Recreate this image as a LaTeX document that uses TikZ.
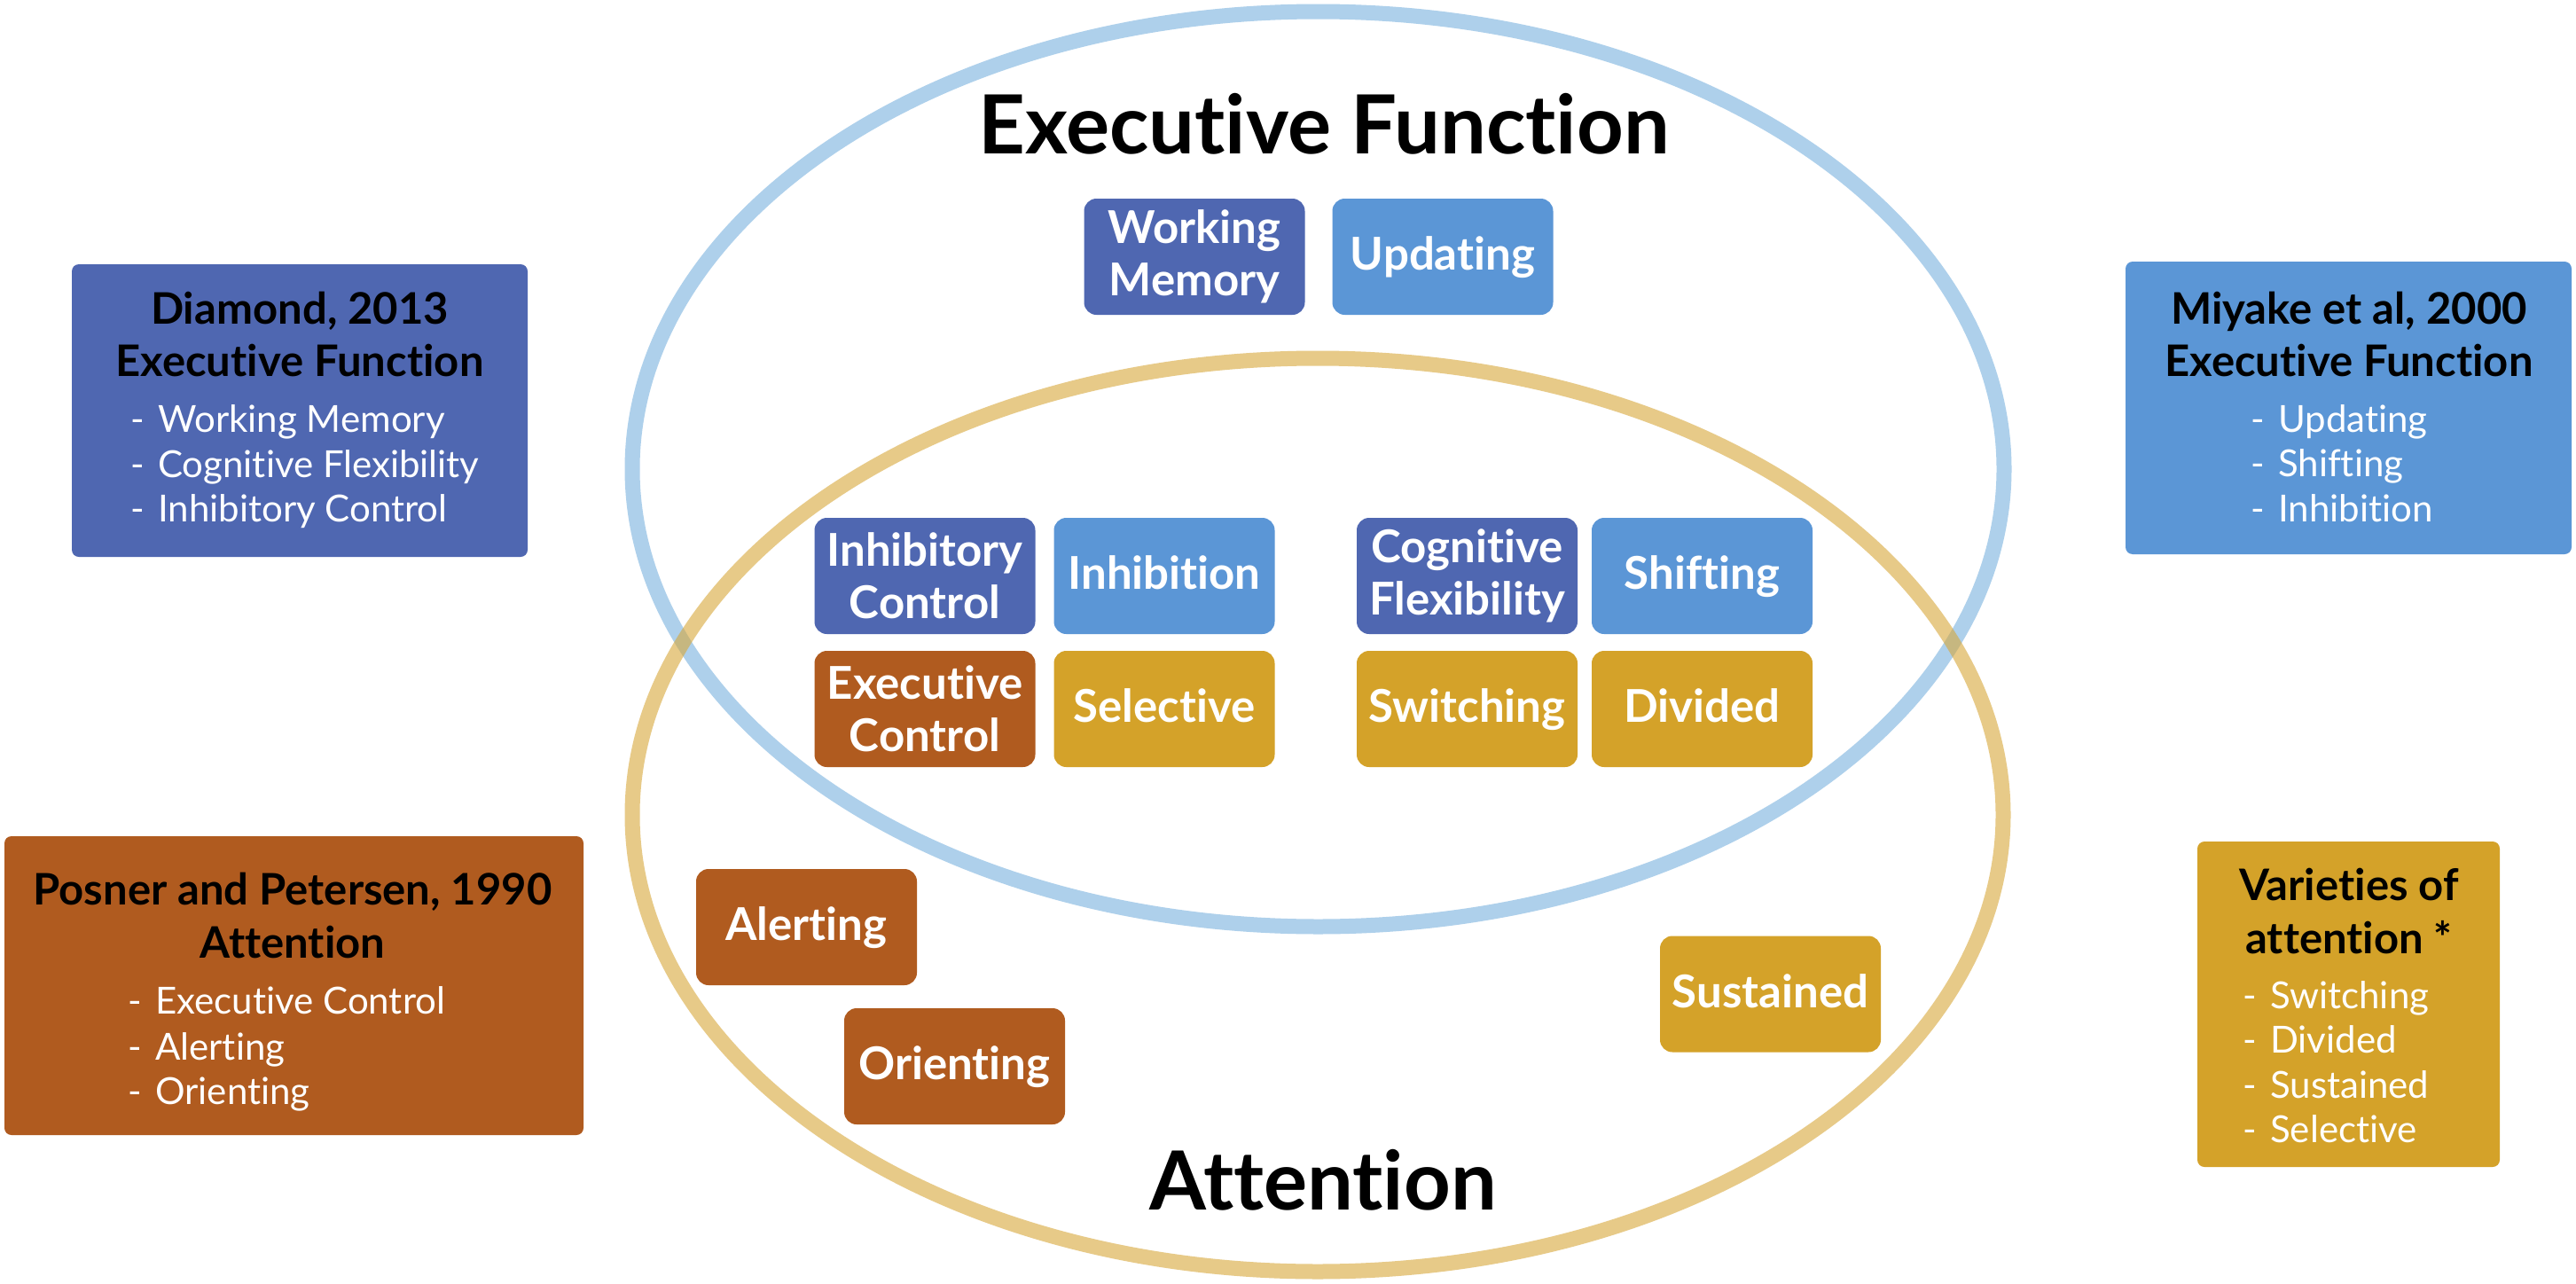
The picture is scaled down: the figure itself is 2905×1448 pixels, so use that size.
\documentclass[tikz,border=0pt]{standalone}
\usepackage{fontspec}
\setmainfont{Lato}[Ligatures=NoCommon]
\definecolor{dblue}{RGB}{79,103,177}
\definecolor{lblue}{RGB}{91,150,214}
\definecolor{cbrown}{RGB}{176,91,31}
\definecolor{cgold}{RGB}{212,162,41}
\definecolor{ellblue}{RGB}{120,177,222}
\definecolor{elltan}{RGB}{215,167,58}
\newcommand{\dashitem}{\makebox[31pt][l]{-}}
\tikzset{
  cbox/.style={rounded corners=14pt, minimum width=249pt, minimum height=131pt, inner sep=0pt,
    text=white, align=center, font=\fontsize{51}{59}\selectfont\bfseries},
  oneline/.style={text height=30pt, text depth=0pt},
  sbox/.style={rounded corners=8pt, inner sep=0pt},
  stitle/.style={anchor=base, inner sep=0pt, font=\fontsize{49}{59}\selectfont\bfseries, text=black},
  sitem/.style={anchor=base west, inner sep=0pt, font=\fontsize{42}{51}\selectfont, text=white},
  bigtitle/.style={anchor=base, inner sep=0pt, font=\fontsize{92}{100}\selectfont\bfseries, text=black},
  ring/.style={line width=17pt, draw opacity=0.6},
}
\begin{document}
\begin{tikzpicture}[x=1pt,y=-1pt]
\useasboundingbox (0,0) rectangle (2905,1448);
\fill[white] (0,0) rectangle (2905,1448);

% rings
\draw[ring, draw=ellblue] (1486.5,529) ellipse [x radius=773.5pt, y radius=516pt];
\draw[ring, draw=elltan] (1486,919) ellipse [x radius=773pt, y radius=515pt];

% titles
\node[bigtitle] (eftitle) at (1493,173) {Executive Function};
\node[bigtitle] (atttitle) at (1492,1364) {Attention};

% central boxes
\node[cbox, fill=dblue] (wm) at (1347,289.5) {Working\\Memory};
\node[cbox, oneline, fill=lblue] (upd) at (1627,289.5) {Updating};
\node[cbox, fill=dblue] (ic) at (1043,649.5) {Inhibitory\\Control};
\node[cbox, oneline, fill=lblue] (inh) at (1313,649.5) {Inhibition};
\node[cbox, fill=dblue] (cf) at (1654.5,649.5) {Cognitive\\Flexibility};
\node[cbox, oneline, fill=lblue] (shf) at (1919.5,649.5) {Shifting};
\node[cbox, fill=cbrown] (ec) at (1043,799.5) {Executive\\Control};
\node[cbox, oneline, fill=cgold] (sel) at (1313,799.5) {Selective};
\node[cbox, oneline, fill=cgold] (swi) at (1654.5,799.5) {Switching};
\node[cbox, oneline, fill=cgold] (div) at (1919.5,799.5) {Divided};
\node[cbox, oneline, fill=cbrown] (alr) at (909.5,1045.5) {Alerting};
\node[cbox, oneline, fill=cbrown] (ori) at (1076.5,1202.5) {Orienting};
\node[cbox, oneline, fill=cgold] (sus) at (1996.5,1121) {Sustained};

% side boxes
\node[sbox, fill=dblue, minimum width=514pt, minimum height=330pt] (diamond) at (338,463) {};
\node[stitle] (d1) at (338,365) {Diamond, 2013};
\node[stitle] (d2) at (338,424) {Executive Function};
\node[sitem] (d3) at (147,487) {\dashitem Working Memory};
\node[sitem] (d4) at (147,538) {\dashitem Cognitive Flexibility};
\node[sitem] (d5) at (147,588) {\dashitem Inhibitory Control};

\node[sbox, fill=lblue, minimum width=503pt, minimum height=330pt] (miyake) at (2648.5,460) {};
\node[stitle] (m1) at (2649,365) {Miyake et al, 2000};
\node[stitle] (m2) at (2649,424) {Executive Function};
\node[sitem] (m3) at (2538,487) {\dashitem Updating};
\node[sitem] (m4) at (2538,537) {\dashitem Shifting};
\node[sitem] (m5) at (2538,588) {\dashitem Inhibition};

\node[sbox, fill=cbrown, minimum width=653pt, minimum height=337pt] (posner) at (331.5,1111.5) {};
\node[stitle] (p1) at (330,1020) {Posner and Petersen, 1990};
\node[stitle] (p2) at (330,1080) {Attention};
\node[sitem] (p3) at (144,1143) {\dashitem Executive Control};
\node[sitem] (p4) at (144,1195) {\dashitem Alerting};
\node[sitem] (p5) at (144,1245) {\dashitem Orienting};

\node[sbox, fill=cgold, minimum width=341pt, minimum height=367pt] (varieties) at (2648.5,1132.5) {};
\node[stitle] (v1) at (2649,1015) {Varieties of};
\node[stitle] (v2) at (2649,1075) {attention *};
\node[sitem] (v3) at (2529,1137) {\dashitem Switching};
\node[sitem] (v4) at (2529,1187) {\dashitem Divided};
\node[sitem] (v5) at (2529,1238) {\dashitem Sustained};
\node[sitem] (v6) at (2529,1288) {\dashitem Selective};
\end{tikzpicture}
\end{document}
